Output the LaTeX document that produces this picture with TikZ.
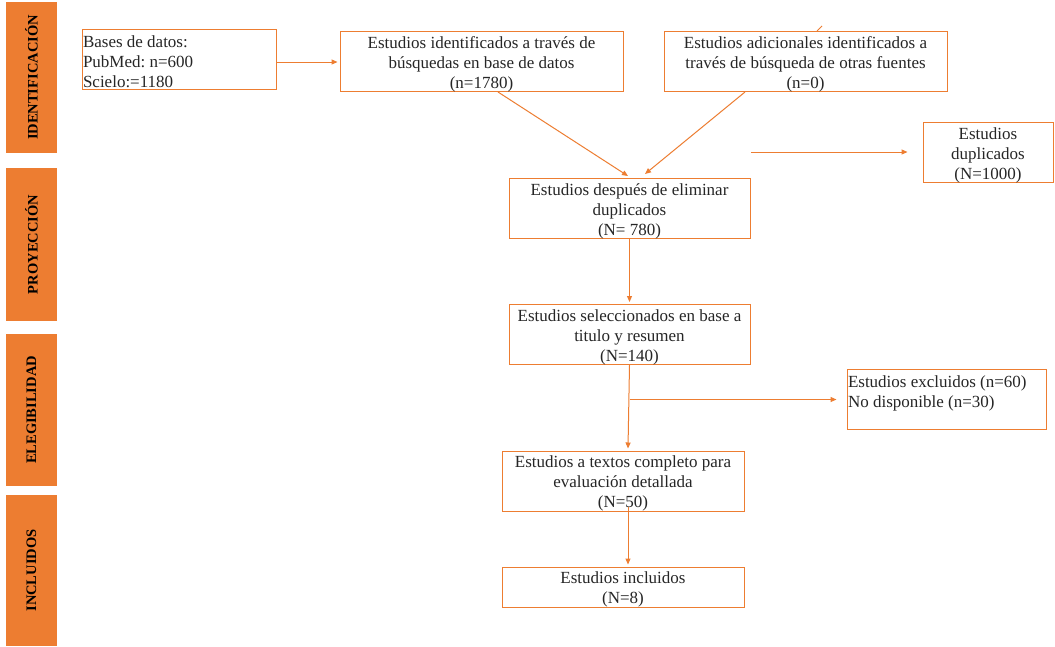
\documentclass[tikz,border=0pt]{standalone}
\usepackage{fontspec}
\setmainfont{Liberation Serif}
\usetikzlibrary{arrows.meta,calc}
\definecolor{org}{HTML}{ED7D31}
\definecolor{txt}{HTML}{262626}
\frenchspacing
\newcommand{\ctxt}[1]{\raisebox{-2.5pt}[\height][\depth]{\begin{tabular}{@{}c@{}}#1\end{tabular}}}
\newcommand{\ltxt}[2]{\makebox[#1][l]{\raisebox{-3.5pt}[\height][\depth]{\begin{tabular}{@{}l@{}}#2\end{tabular}}}}
\begin{document}
\begin{tikzpicture}[x=1pt,y=-1pt,
  box/.style={draw=org, line width=1pt, inner sep=0pt, text=txt, font=\fontsize{17}{20}\selectfont},
  bar/.style={fill=org, rotate=90, inner sep=0pt, minimum height=51pt, text=black, font=\fontsize{14.5}{16}\selectfont\bfseries},
  arr/.style={draw=org, line width=1pt, -{Triangle[length=6pt,width=5pt]}},
  ln/.style={draw=org, line width=1pt}]
\useasboundingbox (0,0) rectangle (1055,646);
\fill[white] (0,0) rectangle (1055,646);

% side bars
\node[bar, minimum width=151pt] (s1) at (31.5,77.5) {IDENTIFICACIÓN};
\node[bar, minimum width=153pt] (s2) at (31.5,244.5) {PROYECCIÓN};
\node[bar, minimum width=152pt] (s3) at (31.5,410) {ELEGIBILIDAD};
\node[bar, minimum width=151pt] (s4) at (31.5,570.5) {INCLUIDOS};

% boxes
\node[box, minimum width=194pt, minimum height=59pt] (bases) at (179,59.5)
  {\ltxt{192pt}{Bases de datos:\\PubMed: n=600\\Scielo:=1180}};
\node[box, minimum width=283pt, minimum height=59pt] (b2) at (481.5,61.5)
  {\ctxt{Estudios identificados a través de\\búsquedas en base de datos\\(n=1780)}};
\node[box, minimum width=283pt, minimum height=59pt] (b3) at (805.5,61.5)
  {\ctxt{Estudios adicionales identificados a\\través de búsqueda de otras fuentes\\(n=0)}};
\node[box, minimum width=130pt, minimum height=57pt] (dup) at (988,152.5)
  {\ctxt{Estudios\\duplicados\\(N=1000)}};
\node[box, minimum width=241pt, minimum height=59pt] (b4) at (629.5,208.5)
  {\ctxt{Estudios después de eliminar\\duplicados\\(N= 780)}};
\node[box, minimum width=241pt, minimum height=57pt] (b5) at (629.5,334.5)
  {\ctxt{Estudios seleccionados en base a\\titulo y resumen\\(N=140)}};
\node[box, minimum width=199pt, minimum height=57pt] (ex) at (946.5,399.5)
  {\ltxt{197pt}{Estudios excluidos (n=60)\\No disponible (n=30)\\\mbox{}}};
\node[box, minimum width=242pt, minimum height=58pt] (b7) at (623,481)
  {\ctxt{Estudios a textos completo para\\evaluación detallada\\(N=50)}};
\node[box, minimum width=242pt, minimum height=38pt] (b8) at (623,587)
  {\ctxt{Estudios incluidos\\(N=8)}};

% connectors
\draw[ln] ($(b3.north)+(11.5,0)$) -- ++(5,-5);
\draw[arr] ($(bases.east)+(0,2.5)$) -- ($(b2.west)+(-2,0.5)$);
\draw[arr] ($(b2.south)+(16.5,0)$) -- ($(b4.north)+(-1.5,-2)$);
\draw[arr] ($(b3.south)+(-60.5,0)$) -- ($(b4.north)+(15.5,-4)$);
\coordinate (d0) at (751,152);
\draw[arr] (d0) -- ($(dup.west)+(-15,-0.5)$);
\draw[arr] (b4.south) -- ($(b5.north)+(0,-2)$);
\draw[arr] (b5.south) -- ($(b7.north)+(5,-2)$);
\draw[arr] (b5.south |- ex.west) -- ($(ex.west)+(-10,0)$);
\draw[arr] ($(b7.south)+(5,-5)$) -- ($(b8.north)+(5,-2)$);
\end{tikzpicture}
\end{document}
